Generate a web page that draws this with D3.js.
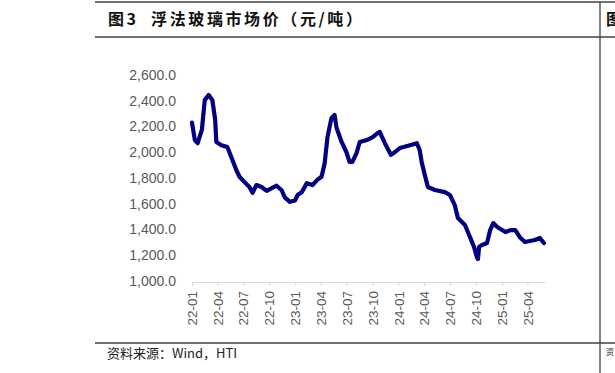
<!DOCTYPE html>
<html><head><meta charset="utf-8">
<script src="https://cdn.jsdelivr.net/npm/d3@7"></script>
<style>body{margin:0;background:#fff}svg{display:block}</style>
</head><body>
<svg id="c" width="615" height="373"></svg>
<script>
const title = "图3\u00a0\u00a0浮法玻璃市场价（元/吨）";
const source = "资料来源：Wind，HTI";
const dates = ["2022-01-01","2022-01-04","2022-01-11","2022-01-21","2022-02-05","2022-02-15","2022-03-01","2022-03-14","2022-03-24","2022-03-28","2022-04-15","2022-05-06","2022-05-24","2022-06-07","2022-06-18","2022-07-05","2022-07-23","2022-08-03","2022-08-17","2022-09-04","2022-09-22","2022-10-27","2022-11-14","2022-11-25","2022-12-13","2022-12-31","2023-01-10","2023-01-24","2023-02-11","2023-03-03","2023-03-20","2023-04-04","2023-04-15","2023-04-25","2023-05-09","2023-05-20","2023-05-27","2023-06-14","2023-07-01","2023-07-12","2023-07-22","2023-08-06","2023-08-17","2023-09-11","2023-10-02","2023-10-20","2023-10-27","2023-11-14","2023-12-05","2023-12-19","2024-01-06","2024-02-04","2024-03-06","2024-03-16","2024-03-23","2024-04-03","2024-04-14","2024-05-09","2024-06-13","2024-07-01","2024-07-18","2024-07-29","2024-08-16","2024-08-23","2024-09-10","2024-09-24","2024-10-05","2024-10-08","2024-10-12","2024-10-22","2024-11-09","2024-11-20","2024-12-01","2024-12-15","2025-01-13","2025-01-31","2025-02-17","2025-03-05","2025-03-23","2025-04-27","2025-05-15","2025-05-29"];
const prices = [2230,2190,2095,2070,2175,2405,2445,2405,2250,2080,2055,2040,1940,1860,1810,1770,1730,1685,1745,1730,1700,1740,1705,1650,1615,1625,1670,1690,1760,1745,1785,1810,1915,2118,2265,2290,2190,2080,2000,1925,1925,1995,2080,2095,2118,2150,2157,2070,1980,2000,2033,2050,2070,2017,1925,1823,1730,1707,1690,1668,1590,1490,1450,1435,1340,1265,1180,1170,1265,1280,1295,1395,1450,1420,1380,1395,1395,1340,1303,1318,1334,1295];
const yTicks = [1000,1200,1400,1600,1800,2000,2200,2400,2600];
const xTickLabels = ["22-01","22-04","22-07","22-10","23-01","23-04","23-07","23-10","24-01","24-04","24-07","24-10","25-01","25-04"];

const svg = d3.select("#c");
const parse = d3.timeParse("%Y-%m-%d");
const data = dates.map((d,i)=>({d:parse(d), v:prices[i]}));

const frame = svg.append("g").attr("stroke","#404040").attr("stroke-width",1.3);
frame.append("line").attr("x1",95).attr("x2",615).attr("y1",2).attr("y2",2);
frame.append("line").attr("x1",95).attr("x2",615).attr("y1",37).attr("y2",37);
frame.append("line").attr("x1",95).attr("x2",615).attr("y1",343).attr("y2",343);
frame.append("line").attr("x1",600).attr("x2",600).attr("y1",2).attr("y2",373);

svg.append("text").attr("x",108).attr("y",25).text(title)
  .attr("font-family","'Noto Sans CJK SC'").attr("font-weight","bold").attr("font-size",16)
  .attr("fill","#111").attr("letter-spacing",2.6);
svg.append("text").attr("x",606).attr("y",25).text("图")
  .attr("font-family","'Noto Sans CJK SC'").attr("font-weight","bold").attr("font-size",16).attr("fill","#111");
svg.append("text").attr("x",107).attr("y",358).text(source)
  .attr("font-family","'Noto Sans CJK SC'").attr("font-size",13).attr("fill","#222");
svg.append("text").attr("x",606).attr("y",355).text("资")
  .attr("font-family","'Noto Sans CJK SC'").attr("font-size",8).attr("fill","#222");

const x = d3.scaleTime().domain([parse("2022-01-01"), parse("2025-06-02")]).range([192,545]);
const y = d3.scaleLinear().domain([1000,2600]).range([281,75]);

const yg = svg.append("g").attr("transform","translate(176,0)")
  .call(d3.axisLeft(y).tickValues(yTicks).tickSize(0).tickPadding(0).tickFormat(d3.format(",.1f")));
yg.select(".domain").remove();
yg.selectAll("text").attr("font-family","'Liberation Sans',Arial").attr("font-size",14).attr("fill","#595959");

const xTickDates = xTickLabels.map(s=>parse("20"+s+"-01"));
const xg = svg.append("g").attr("transform","translate(0,282)")
  .call(d3.axisBottom(x).tickValues(xTickDates).tickSize(4).tickSizeOuter(0).tickFormat((d,i)=>xTickLabels[i]));
xg.select(".domain").attr("stroke","#d9d9d9");
xg.selectAll(".tick line").attr("stroke","#d9d9d9");
xg.selectAll("text").attr("font-family","'Liberation Sans',Arial").attr("font-size",13.5).attr("fill","#595959")
  .attr("transform","rotate(-90)").attr("text-anchor","end").attr("dy","0.35em").attr("x",-9).attr("y",0);

svg.append("path").datum(data)
  .attr("d", d3.line().x(d=>x(d.d)).y(d=>y(d.v)))
  .attr("fill","none").attr("stroke","#000080").attr("stroke-width",4.2).attr("stroke-linejoin","round").attr("stroke-linecap","round");
</script>
</body></html>
